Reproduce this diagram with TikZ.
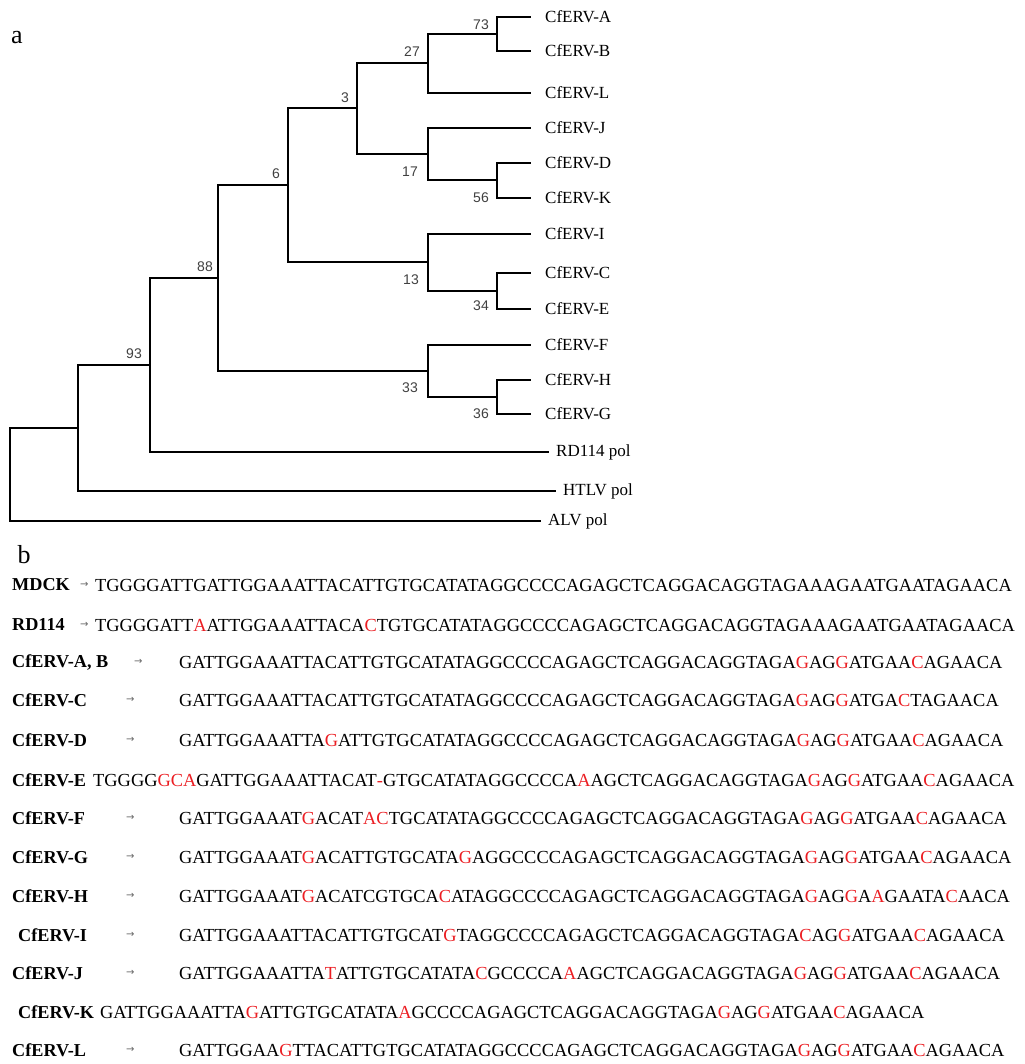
\documentclass[tikz,border=0pt]{standalone}
\usepackage{fontspec}
\setmainfont{Liberation Serif}
\newfontfamily\numfont{Liberation Sans}
\newfontfamily\arrfont{DejaVu Sans}
\definecolor{mred}{RGB}{235,30,35}
\newcommand\rd[1]{\textcolor{mred}{#1}}
\begin{document}
\begin{tikzpicture}[x=1pt,y=-1pt,
  br/.style={line width=1.1pt,line cap=rect},
  bs/.style={font=\numfont\fontsize{14}{14}\selectfont,text=black!75,inner sep=0pt},
  leaf/.style={font=\fontsize{17}{17}\selectfont,anchor=west,inner sep=0pt},
  lab/.style={font=\bfseries\fontsize{18.2}{18}\selectfont,anchor=west,inner sep=0pt},
  seq/.style={font=\fontsize{18.4}{18}\selectfont,anchor=west,inner sep=0pt},
  arr/.style={font=\arrfont\fontsize{10}{10}\selectfont,text=black!60,anchor=west,inner sep=0pt}]
\useasboundingbox (0,0) rectangle (1024,1064);
\node[font=\fontsize{26}{26}\selectfont] (pa) at (17,38) {a};
\node[font=\fontsize{26}{26}\selectfont] (pb) at (24,555) {b};
% leaves
\foreach \n/\y in {A/17,B/51,L/93,J/128,D/163,K/198,I/234,C/273,E/309,F/345,H/380,G/414}
  \coordinate (e\n) at (530,\y);
\foreach \n/\y in {A/17,B/51,L/93,J/128,D/163,K/198,I/234,C/273,E/309,F/345,H/380,G/414}
  \node[leaf] (t\n) at (545,\y) {CfERV-\n};
\node[leaf] (tR) at (556,452) {RD114 pol};
\node[leaf] (tT) at (563,491) {HTLV pol};
\node[leaf] (tV) at (548,521) {ALV pol};
% tree
\draw[br] (497,17)--(eA) (497,17)--(497,51)--(eB);
\draw[br] (428,34)--(497,34);
\draw[br] (428,34)--(428,93)--(eL);
\draw[br] (497,163)--(530,163) (497,163)--(497,198)--(530,198);
\draw[br] (428,180)--(497,180);
\draw[br] (428,128)--(530,128) (428,128)--(428,180);
\draw[br] (357,63)--(428,63) (357,154)--(428,154) (357,63)--(357,154);
\draw[br] (288,108)--(357,108);
\draw[br] (497,273)--(530,273) (497,273)--(497,309)--(530,309) (428,291)--(497,291);
\draw[br] (428,234)--(530,234) (428,234)--(428,291);
\draw[br] (288,262)--(428,262) (288,108)--(288,262);
\draw[br] (218,185)--(288,185);
\draw[br] (497,380)--(530,380) (497,380)--(497,414)--(530,414) (428,397)--(497,397);
\draw[br] (428,345)--(530,345) (428,345)--(428,397);
\draw[br] (218,371)--(428,371) (218,185)--(218,371);
\draw[br] (150,278)--(218,278);
\draw[br] (150,278)--(150,452)--(548,452);
\draw[br] (78,365)--(150,365);
\draw[br] (78,365)--(78,491)--(555,491);
\draw[br] (10,428)--(78,428);
\draw[br] (10,428)--(10,521)--(540,521);
% bootstrap
\node[bs] (b73) at (481,25) {73};
\node[bs] (b27) at (412,52) {27};
\node[bs] (b3) at (345,98) {3};
\node[bs] (b17) at (410,172) {17};
\node[bs] (b56) at (481,198) {56};
\node[bs] (b6) at (276,174) {6};
\node[bs] (b13) at (411,280) {13};
\node[bs] (b34) at (481,306) {34};
\node[bs] (b88) at (205,267) {88};
\node[bs] (b33) at (410,388) {33};
\node[bs] (b36) at (481,414) {36};
\node[bs] (b93) at (134,354) {93};
% part b
\newcommand\row[6]{%
  \node[lab] (l#1) at (#2,#3) {#4};
  \ifx&#5&\else\node[arr] (a#1) at (#5,#3) {→};\fi
  \node[seq] (s#1) at (#6,#3) {\csname sq#1\endcsname};}
\expandafter\def\csname sqM\endcsname{TGGGGATTGATTGGAAATTACATTGTGCATATAGGCCCCAGAGCTCAGGACAGGTAGAAAGAATGAATAGAACA}
\expandafter\def\csname sqR\endcsname{TGGGGATT\rd{A}ATTGGAAATTACA\rd{C}TGTGCATATAGGCCCCAGAGCTCAGGACAGGTAGAAAGAATGAATAGAACA}
\expandafter\def\csname sqAB\endcsname{GATTGGAAATTACATTGTGCATATAGGCCCCAGAGCTCAGGACAGGTAGA\rd{G}AG\rd{G}ATGAA\rd{C}AGAACA}
\expandafter\def\csname sqC\endcsname{GATTGGAAATTACATTGTGCATATAGGCCCCAGAGCTCAGGACAGGTAGA\rd{G}AG\rd{G}ATGA\rd{C}TAGAACA}
\expandafter\def\csname sqD\endcsname{GATTGGAAATTA\rd{G}ATTGTGCATATAGGCCCCAGAGCTCAGGACAGGTAGA\rd{G}AG\rd{G}ATGAA\rd{C}AGAACA}
\expandafter\def\csname sqE\endcsname{TGGGG\rd{GCA}GATTGGAAATTACAT\rd{-}GTGCATATAGGCCCCA\rd{A}AGCTCAGGACAGGTAGA\rd{G}AG\rd{G}ATGAA\rd{C}AGAACA}
\expandafter\def\csname sqF\endcsname{GATTGGAAAT\rd{G}ACAT\rd{AC}TGCATATAGGCCCCAGAGCTCAGGACAGGTAGA\rd{G}AG\rd{G}ATGAA\rd{C}AGAACA}
\expandafter\def\csname sqG\endcsname{GATTGGAAAT\rd{G}ACATTGTGCATA\rd{G}AGGCCCCAGAGCTCAGGACAGGTAGA\rd{G}AG\rd{G}ATGAA\rd{C}AGAACA}
\expandafter\def\csname sqH\endcsname{GATTGGAAAT\rd{G}ACATCGTGCA\rd{C}ATAGGCCCCAGAGCTCAGGACAGGTAGA\rd{G}AG\rd{G}A\rd{A}GAATA\rd{C}AACA}
\expandafter\def\csname sqI\endcsname{GATTGGAAATTACATTGTGCAT\rd{G}TAGGCCCCAGAGCTCAGGACAGGTAGA\rd{C}AG\rd{G}ATGAA\rd{C}AGAACA}
\expandafter\def\csname sqJ\endcsname{GATTGGAAATTA\rd{T}ATTGTGCATATA\rd{C}GCCCCA\rd{A}AGCTCAGGACAGGTAGA\rd{G}AG\rd{G}ATGAA\rd{C}AGAACA}
\expandafter\def\csname sqK\endcsname{GATTGGAAATTA\rd{G}ATTGTGCATATA\rd{A}GCCCCAGAGCTCAGGACAGGTAGA\rd{G}AG\rd{G}ATGAA\rd{C}AGAACA}
\expandafter\def\csname sqL\endcsname{GATTGGAA\rd{G}TTACATTGTGCATATAGGCCCCAGAGCTCAGGACAGGTAGA\rd{G}AG\rd{G}ATGAA\rd{C}AGAACA}
\row{M}{12}{585}{MDCK}{80}{95}
\row{R}{12}{625}{RD114}{80}{95}
\row{AB}{12}{662}{CfERV-A, B}{134}{179}
\row{C}{12}{700}{CfERV-C}{126}{179}
\row{D}{12}{740}{CfERV-D}{126}{179}
\row{E}{12}{780}{CfERV-E}{}{93}
\row{F}{12}{818}{CfERV-F}{126}{179}
\row{G}{12}{857}{CfERV-G}{126}{179}
\row{H}{12}{896}{CfERV-H}{126}{179}
\row{I}{18}{935}{CfERV-I}{126}{179}
\row{J}{12}{973}{CfERV-J}{126}{179}
\row{K}{18}{1012}{CfERV-K}{}{100}
\row{L}{12}{1050}{CfERV-L}{126}{179}
\end{tikzpicture}
\end{document}
